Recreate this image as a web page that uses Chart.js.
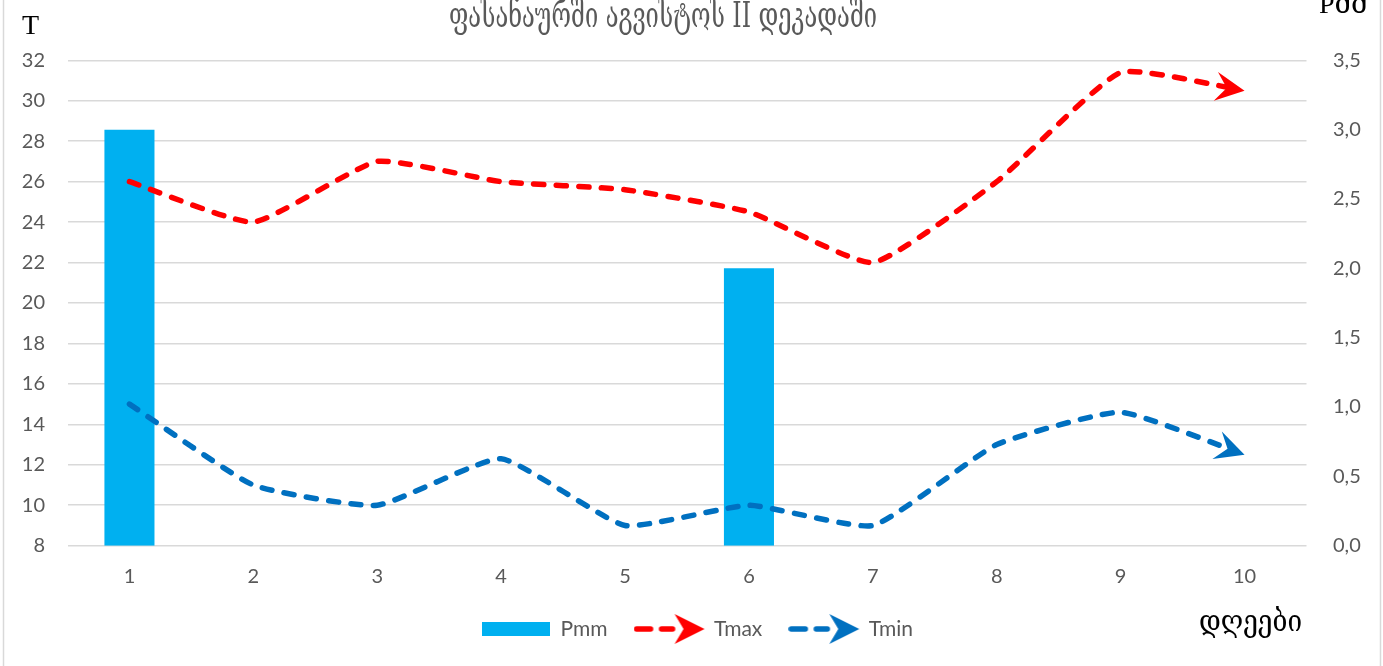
<!DOCTYPE html>
<html><head><meta charset="utf-8">
<script src="https://cdn.jsdelivr.net/npm/chart.js@4.4.1/dist/chart.umd.min.js"></script>
<style>html,body{margin:0;padding:0;background:#fff;overflow:hidden}#wrap{position:absolute;left:0;top:0;width:1383px;height:666px}</style>
</head><body><div id="wrap"><canvas id="c" width="1383" height="666"></canvas></div>
<script>
// ---- data ----
const categories = ['1','2','3','4','5','6','7','8','9','10'];
const pmm  = [3.0, 0, 0, 0, 0, 2.0, 0, 0, 0, 0];
const tmax = [26.0, 24.0, 27.0, 26.0, 25.6, 24.5, 22.0, 26.0, 31.4, 30.5];
const tmin = [15.0, 11.0, 10.0, 12.3, 9.0, 10.0, 9.0, 13.0, 14.6, 12.5];
const leftTickValues = [8, 10, 12, 14, 16, 18, 20, 22, 24, 26, 28, 30, 32];
const rightTickValues = [0, 0.5, 1, 1.5, 2, 2.5, 3, 3.5];
const rightTickLabels = ['0,0','0,5','1,0','1,5','2,0','2,5','3,0','3,5'];
const titleText = 'ფასანაურში აგვისტოს II დეკადაში';
const leftAxisTitle = 'T';
const rightAxisTitle = 'Pმმ';
const xAxisTitle = 'დღეები';

const GRAY = '#595959';
const FONT = 'Lato';

function makeLineIcon(color){
  const c = document.createElement('canvas'); c.width = 72; c.height = 32;
  const g = c.getContext('2d');
  g.strokeStyle = color; g.lineWidth = 5.5; g.lineCap = 'round';
  g.beginPath(); g.moveTo(3, 16); g.lineTo(17, 16); g.moveTo(28, 16); g.lineTo(39, 16); g.stroke();
  g.fillStyle = color; g.beginPath();
  g.moveTo(71, 16); g.lineTo(41, 1); g.lineTo(50, 16); g.lineTo(41, 31); g.closePath(); g.fill();
  return c;
}
function makeBarIcon(color){
  const c = document.createElement('canvas'); c.width = 68; c.height = 14;
  const g = c.getContext('2d'); g.fillStyle = color; g.fillRect(0, 0, 68, 14);
  return c;
}

const arrowPlugin = {
  id: 'arrows',
  _geom(chart, idx){
    const pts = chart.getDatasetMeta(idx).data;
    const p = pts[pts.length - 1], q = pts[pts.length - 2];
    const dx = p.x - q.x, dy = p.y - q.y, len = Math.hypot(dx, dy);
    return {x: p.x, y: p.y, ux: dx / len, uy: dy / len};
  },
  beforeDatasetDraw(chart, args){
    const ds = chart.data.datasets[args.index];
    if (!ds.arrowColor) return;
    const g = this._geom(chart, args.index), ctx = chart.ctx;
    const px = -g.uy, py = g.ux, w = 7;
    const nx = g.x - g.ux * 17, ny = g.y - g.uy * 17;
    const fx = g.x + g.ux * 12, fy = g.y + g.uy * 12;
    ctx.save();
    ctx.beginPath();
    ctx.rect(0, 0, chart.width, chart.height);
    ctx.moveTo(nx + px * w, ny + py * w); ctx.lineTo(fx + px * w, fy + py * w);
    ctx.lineTo(fx - px * w, fy - py * w); ctx.lineTo(nx - px * w, ny - py * w); ctx.closePath();
    ctx.clip('evenodd');
  },
  afterDatasetDraw(chart, args){
    const ds = chart.data.datasets[args.index];
    if (!ds.arrowColor) return;
    const ctx = chart.ctx; ctx.restore();
    const g = this._geom(chart, args.index);
    const px = -g.uy, py = g.ux, L = 29, H = 14.5, N = 18;
    ctx.save(); ctx.fillStyle = ds.arrowColor; ctx.beginPath();
    ctx.moveTo(g.x, g.y);
    ctx.lineTo(g.x - g.ux * L + px * H, g.y - g.uy * L + py * H);
    ctx.lineTo(g.x - g.ux * N, g.y - g.uy * N);
    ctx.lineTo(g.x - g.ux * L - px * H, g.y - g.uy * L - py * H);
    ctx.closePath(); ctx.fill(); ctx.restore();
  }
};

// draw text at a given font size, squeezed horizontally to a target width
function drawFitted(ctx, text, family, size, left, baseline, width){
  ctx.font = size + 'px ' + family;
  const w = ctx.measureText(text).width;
  ctx.save();
  ctx.translate(left, baseline);
  ctx.scale(width / w, 1);
  ctx.textAlign = 'left'; ctx.textBaseline = 'alphabetic';
  ctx.fillText(text, 0, 0);
  ctx.restore();
}

const textPlugin = {
  id: 'texts',
  beforeDraw(chart){
    const ctx = chart.ctx; ctx.save();
    ctx.fillStyle = '#fff'; ctx.fillRect(0, 0, chart.width, chart.height);
    ctx.strokeStyle = '#d9d9d9'; ctx.lineWidth = 1.5;
    ctx.beginPath(); ctx.moveTo(3.5, 0); ctx.lineTo(3.5, chart.height);
    ctx.moveTo(1380.5, 0); ctx.lineTo(1380.5, chart.height); ctx.stroke();
    ctx.restore();
  },
  afterDraw(chart){
    const ctx = chart.ctx; ctx.save();
    const geo = '"DejaVu Serif", "DejaVu Sans", serif';
    ctx.fillStyle = GRAY;
    drawFitted(ctx, titleText, geo, 35, 449, 27, 428);
    ctx.fillStyle = '#000'; ctx.textAlign = 'left'; ctx.textBaseline = 'alphabetic';
    ctx.font = '28px "Liberation Serif", serif';
    ctx.fillText(leftAxisTitle, 22, 34);
    ctx.font = '28px "Liberation Serif", "DejaVu Serif", serif';
    ctx.fillText(rightAxisTitle, 1319, 13);
    drawFitted(ctx, xAxisTitle, geo, 30, 1199, 631, 103);
    ctx.restore();
  }
};

const barIcon = makeBarIcon('#00B0F0');
const maxIcon = makeLineIcon('#FF0000');
const minIcon = makeLineIcon('#0070C0');

new Chart(document.getElementById('c'), {
  data: {
    labels: categories,
    datasets: [
      {type: 'line', label: 'Tmax', data: tmax, yAxisID: 'y', borderColor: '#FF0000', borderWidth: 5.5,
       borderDash: [10, 12.5], borderCapStyle: 'round', borderJoinStyle: 'round', tension: 0.15,
       pointRadius: 0, pointHoverRadius: 0, fill: false, order: 1, arrowColor: '#FF0000'},
      {type: 'line', label: 'Tmin', data: tmin, yAxisID: 'y', borderColor: '#0070C0', borderWidth: 5.5,
       borderDash: [10, 12.5], borderCapStyle: 'round', borderJoinStyle: 'round', tension: 0.15,
       pointRadius: 0, pointHoverRadius: 0, fill: false, order: 1, arrowColor: '#0070C0'},
      {type: 'bar', label: 'Pmm', data: pmm, yAxisID: 'y1', backgroundColor: '#00B0F0', borderWidth: 0,
       barPercentage: 1, categoryPercentage: 0.404, order: 2}
    ]
  },
  options: {
    responsive: false, animation: false, devicePixelRatio: 1,
    layout: {padding: {left: 12, right: 0, top: 60.3, bottom: 16.5}},
    scales: {
      x: {grid: {display: false, drawTicks: false}, border: {display: false},
          ticks: {color: GRAY, font: {family: FONT, size: 20}, padding: 19, maxRotation: 0, autoSkip: false},
          afterFit(s){ s.height = 44.8; }},
      y: {position: 'left', min: 8, max: 32,
          afterBuildTicks(s){ s.ticks = leftTickValues.map(v => ({value: v})); },
          ticks: {color: GRAY, font: {family: FONT, size: 20}, padding: 22.5},
          grid: {color: '#d9d9d9', lineWidth: 1.5, drawTicks: false}, border: {display: false},
          afterFit(s){ s.width = 55.5; }},
      y1: {position: 'right', min: 0, max: 3.5,
          afterBuildTicks(s){ s.ticks = rightTickValues.map(v => ({value: v})); },
          ticks: {color: GRAY, font: {family: FONT, size: 20}, padding: 26.5,
                  callback: (v) => rightTickLabels[rightTickValues.indexOf(v)]},
          grid: {display: false, drawTicks: false}, border: {display: false},
          afterFit(s){ s.width = 76.5; }}
    },
    plugins: {
      tooltip: {enabled: false},
      title: {display: false},
      legend: {position: 'bottom',
        labels: {usePointStyle: true, pointStyleWidth: 68, padding: 28, color: GRAY,
          font: {family: FONT, size: 21},
          generateLabels: () => [
            {text: 'Pmm', pointStyle: barIcon, fontColor: GRAY, datasetIndex: 2, hidden: false, lineWidth: 0},
            {text: 'Tmax', pointStyle: maxIcon, fontColor: GRAY, datasetIndex: 0, hidden: false, lineWidth: 0},
            {text: 'Tmin', pointStyle: minIcon, fontColor: GRAY, datasetIndex: 1, hidden: false, lineWidth: 0}
          ]}}
    }
  },
  plugins: [arrowPlugin, textPlugin]
});
</script></body></html>
